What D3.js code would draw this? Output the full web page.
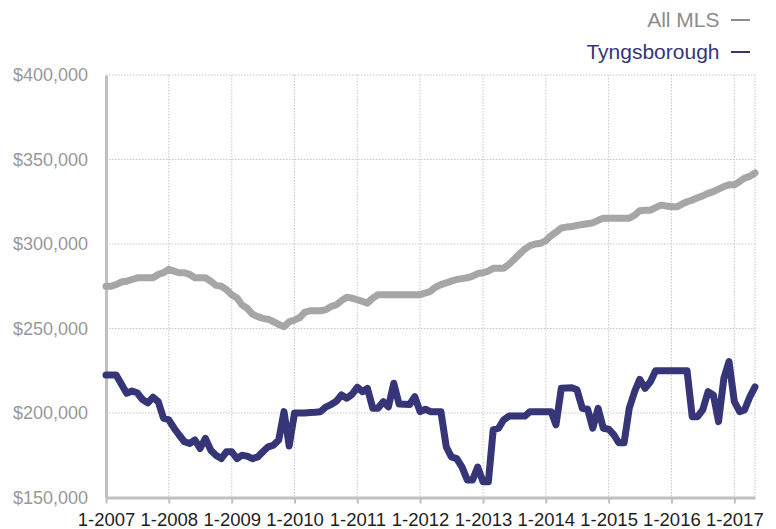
<!DOCTYPE html>
<html>
<head>
<meta charset="utf-8">
<script src="https://cdn.jsdelivr.net/npm/d3@7"></script>
<style>
  html, body { margin: 0; padding: 0; background: #fff; }
  svg { display: block; font-family: "Liberation Sans", Arial, Helvetica, sans-serif; }
</style>
</head>
<body>
<div id="chart"></div>
<script>
// monthly median prices, in $1,000, Jan 2007 .. May 2017
const startMonth = new Date(2007, 0, 1);
const endMonth = new Date(2017, 4, 1);

const allMls = [
  275, 275, 276, 277.5, 278, 279, 280, 280, 280, 280, 282, 283,
  285, 284, 283, 283, 282, 280, 280, 280, 278, 275.5, 275, 273,
  270, 268, 264, 262, 258.5, 257, 256, 255.5, 254, 252.5, 251, 254,
  255, 256.5, 259.5, 260.5, 260.5, 260.5, 261, 263, 264, 266.5, 268.5, 268,
  267, 266, 265, 268, 270, 270, 270, 270, 270, 270, 270, 270,
  270, 271, 272, 274.5, 276, 277, 278, 279, 279.5, 280, 281, 282.5,
  283, 284, 285.6, 285.6, 285.6, 288, 291, 294, 297, 299, 300, 300.4,
  302, 305, 307, 309.5, 310, 310.3, 311, 311.5, 312, 312.5, 314, 315.2,
  315.2, 315.2, 315.2, 315.2, 315.2, 317, 319.7, 320, 320, 321.5, 323, 322.5,
  322, 322, 323.5, 325, 326, 327.4, 328.5, 330, 331, 332.5, 334, 335,
  335, 337, 339, 340, 342
];

const tyngsborough = [
  222.5, 222.5, 222.5, 217, 211.7, 213, 212, 208, 206, 209.3, 206.7, 197,
  196, 191, 187, 183, 182, 184, 179, 185, 178, 175, 173, 177,
  177, 173, 175, 174.5, 173, 174, 177, 180, 181, 184, 200.8, 180.5,
  200, 200, 200, 200.3, 200.5, 200.8, 203.5, 205, 207, 210.7, 208.7, 211,
  215.2, 212.6, 214.6, 202.8, 202.8, 206.7, 203.7, 217.6, 205.3, 205.2, 205, 209.6,
  200.8, 202.2, 200.8, 200.8, 200.8, 180, 174, 173, 168, 160.4, 160.4, 168,
  159.3, 159.3, 190, 191, 196, 198.2, 198.2, 198.2, 198.2, 200.8, 200.8, 200.8,
  200.8, 200.8, 193, 214.6, 214.8, 215, 213.8, 202.8, 202.2, 191, 202.8, 191,
  190.4, 187, 182.4, 182.4, 202.8, 212.6, 219.9, 214.6, 218.5, 225, 225, 225,
  225, 225, 225, 225, 197.8, 197.8, 201.8, 212.6, 210.7, 194.9, 220.5, 230.4,
  206.7, 200.8, 201.8, 209.6, 215.5
];

const yTicks = [150000, 200000, 250000, 300000, 350000, 400000];
const xTickYears = [2007, 2008, 2009, 2010, 2011, 2012, 2013, 2014, 2015, 2016, 2017];

const seriesNames = ["All MLS", "Tyngsborough"];
const seriesColors = ["#a6a6a6", "#363577"];

const width = 776, height = 529;
const plotLeft = 106, plotRight = 755, plotTop = 75, plotBottom = 497.5;

const months = d3.timeMonth.range(startMonth, d3.timeMonth.offset(endMonth, 1));

const x = d3.scaleTime().domain([startMonth, endMonth]).range([plotLeft, plotRight]);
const y = d3.scaleLinear().domain([150000, 400000]).range([plotBottom, plotTop]);

const svg = d3.select("#chart").append("svg")
  .attr("width", width)
  .attr("height", height);

// dotted grid
const grid = svg.append("g").attr("stroke", "#c6c6c6").attr("stroke-width", 1).attr("stroke-dasharray", "1.5,1.5");
grid.selectAll("line.h").data(yTicks.slice(1)).enter().append("line")
  .attr("x1", plotLeft).attr("x2", plotRight)
  .attr("y1", d => y(d)).attr("y2", d => y(d));
const xTicks = xTickYears.map(yr => new Date(yr, 0, 1));
grid.selectAll("line.v").data(xTicks.slice(1).concat([endMonth])).enter().append("line")
  .attr("x1", d => x(d)).attr("x2", d => x(d))
  .attr("y1", plotTop).attr("y2", plotBottom);

// y axis
const yAxis = svg.append("g")
  .attr("transform", "translate(" + plotLeft + ",0)")
  .call(d3.axisLeft(y).tickValues(yTicks).tickSize(0).tickPadding(18).tickFormat(d3.format("$,")));
yAxis.select(".domain").attr("stroke", "#c0c0c0").attr("stroke-width", 3);
yAxis.selectAll("text")
  .attr("fill", "#999")
  .attr("font-size", 18)
  .attr("dy", "0.32em")
  .style("font-family", "'Liberation Sans', Arial, sans-serif");

// x axis
const xAxis = svg.append("g")
  .attr("transform", "translate(0," + plotBottom + ")")
  .call(d3.axisBottom(x).tickValues(xTicks).tickSize(6).tickSizeOuter(0).tickFormat(d3.timeFormat("%-m-%Y")));
xAxis.select(".domain").attr("stroke", "#c0c0c0").attr("stroke-width", 3);
xAxis.selectAll(".tick line").attr("stroke", "#c0c0c0").attr("stroke-width", 2);
xAxis.selectAll("text")
  .attr("y", 28)
  .attr("dy", 0)
  .attr("fill", "#1e1e1e")
  .attr("font-size", 18.5)
  .style("font-family", "'Liberation Sans', Arial, sans-serif");

// lines
const line = d3.line()
  .x((d, i) => x(months[i]))
  .y(d => y(d * 1000));

[allMls, tyngsborough].forEach((vals, k) => {
  svg.append("path")
    .datum(vals)
    .attr("fill", "none")
    .attr("stroke", seriesColors[k])
    .attr("stroke-width", 7)
    .attr("stroke-linejoin", "round")
    .attr("stroke-linecap", "round")
    .attr("d", line);
});

// legend
const legend = svg.append("g");
seriesNames.forEach((name, k) => {
  const by = 27 + k * 32;
  legend.append("text")
    .attr("x", 719.5).attr("y", by)
    .attr("text-anchor", "end")
    .attr("font-size", 21)
    .attr("fill", k === 0 ? "#8c8c8c" : seriesColors[1])
    .text(name);
  legend.append("line")
    .attr("x1", 731).attr("x2", 750)
    .attr("y1", by - 7).attr("y2", by - 7)
    .attr("stroke", k === 0 ? "#8c8c8c" : seriesColors[1])
    .attr("stroke-width", 2);
});
</script>
</body>
</html>
